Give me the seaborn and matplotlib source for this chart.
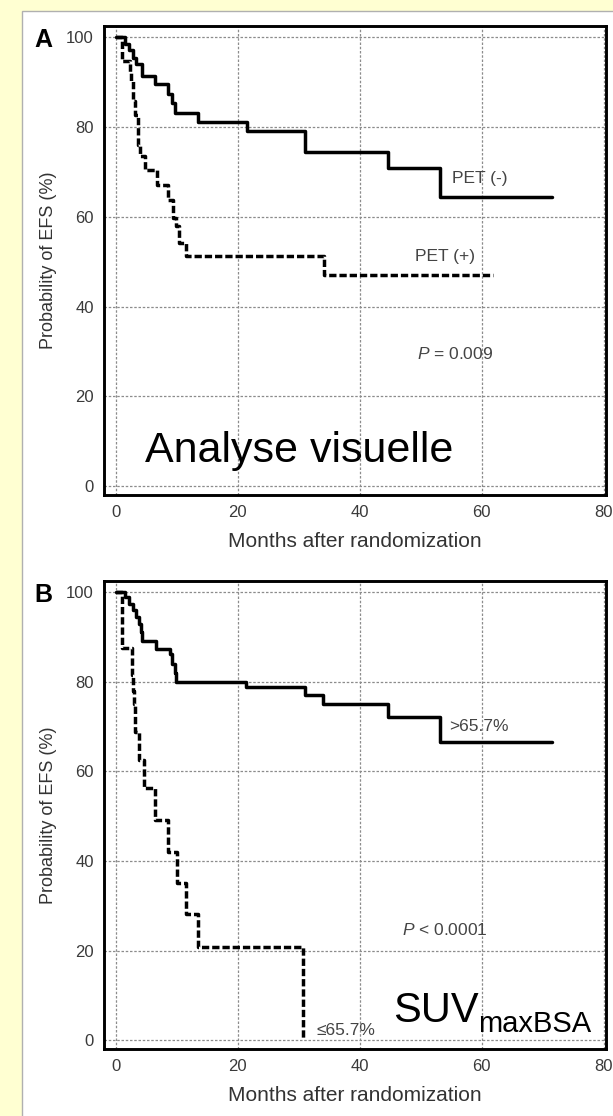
import matplotlib
matplotlib.use("Agg")
import matplotlib.pyplot as plt
import seaborn as sns
import pandas as pd
from matplotlib.patches import Rectangle

# ---------------- data ----------------
# Panel A : visual analysis
a_neg_months = [0, 1.5, 2.2, 2.9, 3.4, 4.3, 6.4, 8.6, 9.2, 9.7, 13.5, 21.5, 31.0, 44.7, 53.2, 71.5]
a_neg_efs = [100, 98.6, 97.1, 95.5, 94.0, 91.4, 89.5, 87.3, 85.4, 83.2, 81.2, 79.1, 74.5, 70.9, 64.4, 64.4]
a_pos_months = [0, 1.0, 2.3, 2.5, 2.8, 3.2, 3.6, 4.0, 4.8, 6.7, 8.6, 9.4, 9.9, 10.3, 11.5, 34.2, 61.9]
a_pos_efs = [100, 94.7, 92.1, 90.2, 85.8, 82.8, 76.1, 73.5, 70.5, 67.0, 63.8, 59.8, 57.9, 54.2, 51.2, 47.1, 47.1]

# Panel B : SUVmaxBSA
b_hi_months = [0, 1.5, 2.2, 2.8, 3.4, 3.9, 4.1, 4.3, 6.6, 8.9, 9.3, 9.7, 9.9, 21.4, 31.0, 34.0, 44.7, 53.2, 71.5]
b_hi_efs = [100, 99.0, 97.5, 96.0, 94.5, 93.0, 91.1, 89.1, 87.4, 86.3, 84.1, 81.9, 80.0, 78.9, 77.0, 75.0, 72.2, 66.6, 66.6]
b_lo_months = [0, 1.0, 2.6, 2.75, 2.9, 3.0, 3.1, 3.2, 3.9, 4.6, 6.5, 8.6, 10.1, 11.5, 13.5, 30.7]
b_lo_efs = [100, 87.5, 84.5, 81.5, 78.0, 75.0, 72.0, 68.8, 62.5, 56.3, 49.1, 42.0, 35.1, 28.1, 20.8, 0]

x_ticks = [0, 20, 40, 60, 80]
y_ticks = [0, 20, 40, 60, 80, 100]
x_label = "Months after randomization"
y_label = "Probability of EFS (%)"

# ---------------- style ----------------
sns.set_style("white")
plt.rcParams["font.family"] = ["Liberation Sans", "DejaVu Sans"]
plt.rcParams["mathtext.fontset"] = "custom"
plt.rcParams["mathtext.it"] = "Liberation Sans:italic"
plt.rcParams["mathtext.rm"] = "Liberation Sans"

W, H = 613, 1116
fig = plt.figure(figsize=(W / 100, H / 100), dpi=100)
fig.patch.set_facecolor("#FFFFD2")
fig.patches.append(Rectangle((22 / W, -0.01), 1.0, (H - 11) / H + 0.01,
                             transform=fig.transFigure, facecolor="white",
                             edgecolor="#b0b0b0", linewidth=1.0, zorder=-5))

left = 103.5 / W
width = (606 - 103.5) / W
axA = fig.add_axes([left, (H - 495) / H, width, (495 - 25.7) / H])
axB = fig.add_axes([left, (H - 1049) / H, width, (1049 - 580.7) / H])

solid_kw = dict(color="black", linewidth=2.5, drawstyle="steps-post", estimator=None, sort=False)
dash_kw = dict(color="black", linewidth=2.5, drawstyle="steps-post", estimator=None, sort=False,
               linestyle=(0, (2.1, 0.85)))

txt_col = "#444444"


def style_axis(ax, letter):
    ax.set_xlim(-2.0, 80.4)
    ax.set_ylim(-2.0, 102.6)
    ax.set_xticks(x_ticks)
    ax.set_xticks([10, 30, 50, 70], minor=True)
    ax.set_yticks(y_ticks)
    ax.set_yticks([10, 30, 50, 70, 90], minor=True)
    ax.tick_params(which="major", direction="in", length=5, width=1.2, pad=7,
                   labelsize=12, labelcolor="#3a3a3a", color="black")
    ax.tick_params(which="minor", direction="in", length=4, width=1.2, color="black")
    ax.grid(True, which="major", color="#8c8c8c", linestyle=(0, (2.0, 1.4)), linewidth=0.9)
    ax.set_axisbelow(True)
    for s in ax.spines.values():
        s.set_visible(True)
        s.set_color("black")
        s.set_linewidth(2.1)
    ax.set_xlabel(x_label, fontsize=15, color="#333333")
    ax.set_ylabel(y_label, fontsize=13, color="#333333")
    ax.xaxis.set_label_coords(0.5, -0.078)
    ax.yaxis.set_label_coords(-0.092, 0.5)
    ax.text(-0.12, 0.97, letter, transform=ax.transAxes, fontsize=18, fontweight="bold",
            ha="center", va="center", color="black")


# ---------------- panel A ----------------
sns.lineplot(x=a_neg_months, y=a_neg_efs, ax=axA, **solid_kw)
sns.lineplot(x=a_pos_months, y=a_pos_efs, ax=axA, **dash_kw)
style_axis(axA, "A")
axA.text(55.1, 68.5, "PET (-)", fontsize=12.5, color=txt_col, ha="left", va="center")
axA.text(49.1, 51.1, "PET (+)", fontsize=12.5, color=txt_col, ha="left", va="center")
axA.text(49.4, 29.5, "$P$ = 0.009", fontsize=12.5, color=txt_col, ha="left", va="center")
axA.text(4.8, 5.4, "Analyse visuelle", fontsize=31, color="black", ha="left", va="baseline")

# ---------------- panel B ----------------
sns.lineplot(x=b_hi_months, y=b_hi_efs, ax=axB, **solid_kw)
sns.lineplot(x=b_lo_months, y=b_lo_efs, ax=axB, **dash_kw)
style_axis(axB, "B")
axB.text(54.7, 70.1, ">65.7%", fontsize=12.5, color=txt_col, ha="left", va="center")
axB.text(32.9, 2.2, "≤65.7%", fontsize=12.5, color=txt_col, ha="left", va="center")
axB.text(46.9, 24.6, "$P$ < 0.0001", fontsize=12.5, color=txt_col, ha="left", va="center")
axB.text(45.5, 4.1, "SUV", fontsize=30, color="black", ha="left", va="baseline")
axB.text(59.4, 1.9, "maxBSA", fontsize=21, color="black", ha="left", va="baseline")

fig.savefig("out.png", dpi=100, facecolor=fig.get_facecolor())
